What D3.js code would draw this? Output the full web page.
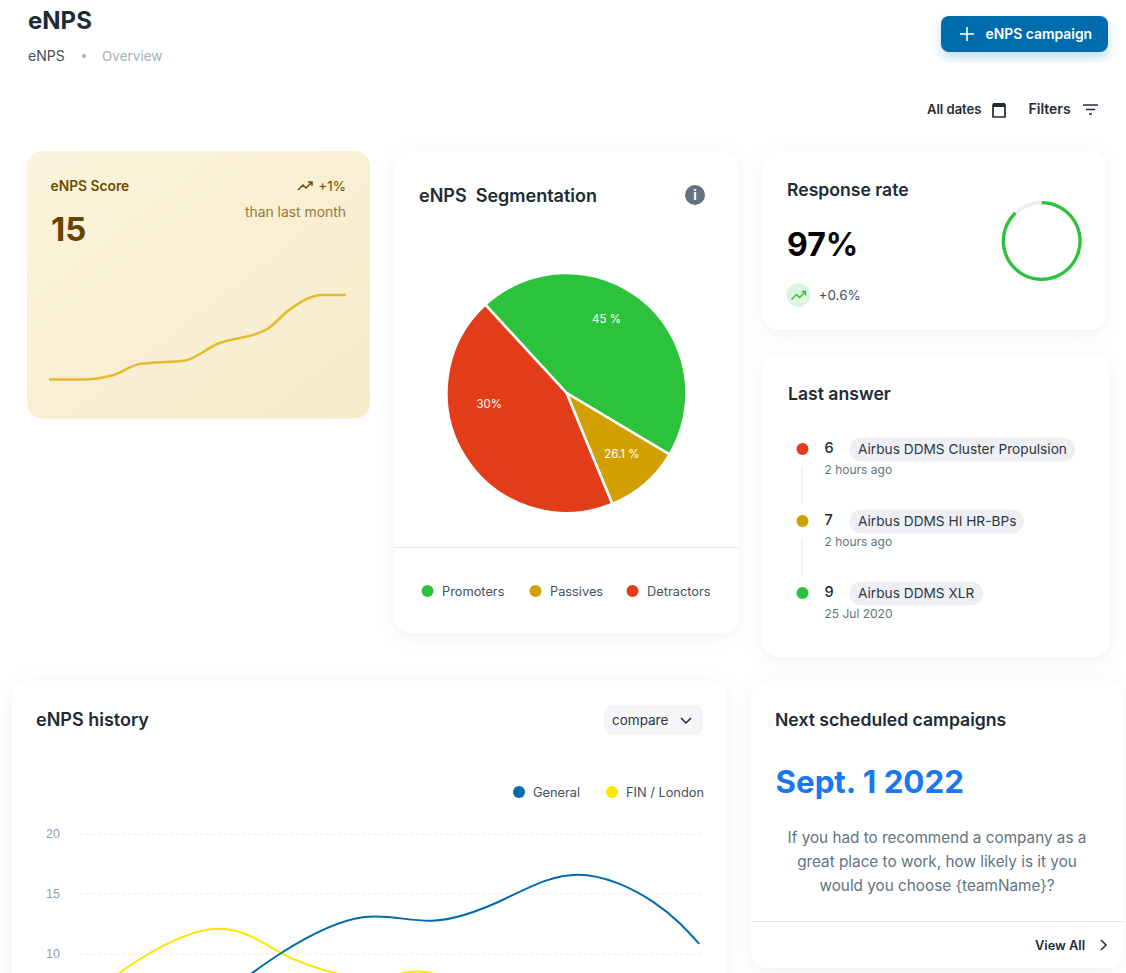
<!DOCTYPE html>
<html>
  <head>
    <meta charset="utf-8">
    <title>eNPS</title>
    <script src="https://d3js.org/d3.v7.min.js"></script>
    <style>
      html, body { margin: 0; padding: 0; background: #fff; overflow: hidden; }
      svg { display: block; font-family: Inter, "Noto Sans", sans-serif; }
      text { fill: #212b36; white-space: pre; }
      .title { font-size: 17.6px; font-weight: 600; }
      .legend { font-size: 12.8px; fill: #454f5b; }
      .small { font-size: 12px; fill: #637381; }
      .axis text { font-size: 12.5px; fill: #919eab; }
      .axis line { stroke: #e8ebee; stroke-dasharray: 3 3; }
    </style>
  </head>

  <body>
    <svg id="canvas" width="1126" height="973"></svg>
    <script>
      // data
      const sliceNames = ["Promoters", "Passives", "Detractors"];
      const sliceValues = [45.4, 10.2, 44.4];
      const sliceLabels = ["45 %", "26.1 %", "30%"];
      const sliceColours = ["#2cc23c", "#d1a000", "#e23c18"];

      const sparkX = [0, 11.4, 21.5, 30.6, 45.8, 56.6, 73.4, 81.1, 91.9, 100];
      const sparkY = [0, 0, 5, 18.5, 22.5, 42, 59.5, 83, 100, 100];

      const historyTicks = [10, 15, 20];
      const generalX = [19, 32.3, 45.4, 56.5, 68, 79.9, 92, 99.4];
      const generalY = [5, 10.04, 13.02, 12.73, 14.5, 16.57, 14.3, 10.8];
      const londonX = [0, 6.3, 21, 32.3, 40.9, 47.4, 54.1, 61];
      const londonY = [5.3, 8.38, 12.02, 10.04, 8.38, 7.9, 8.49, 7.6];

      const answerScores = ["6", "7", "9"];
      const answerTeams = ["Airbus DDMS Cluster Propulsion", "Airbus DDMS HI HR-BPs", "Airbus DDMS XLR"];
      const answerTimes = ["2 hours ago", "2 hours ago", "25 Jul 2020"];
      const answerColours = ["#e23c18", "#d1a000", "#2cc23c"];
      const answerPillEnds = [1075, 1024, 983];

      const responseShare = 0.88;
      const questionLines = [
        "If you had to recommend a company as a",
        "great place to work, how likely is it you",
        "would you choose {teamName}?"
      ];

      const canvas = d3.select("#canvas");
      const defs = canvas.append("defs");

      // shadows and the score card fill
      function addShadow(id, dy, blur, colour, opacity) {
        defs.append("filter")
            .attr("id", id)
            .attr("x", "-20%").attr("y", "-20%")
            .attr("width", "140%").attr("height", "150%")
          .append("feDropShadow")
            .attr("dx", 0).attr("dy", dy)
            .attr("stdDeviation", blur)
            .attr("flood-color", colour)
            .attr("flood-opacity", opacity);
      }
      addShadow("cardShadow", 3, 8, "#919eab", 0.16);
      addShadow("buttonShadow", 6, 6, "#006cae", 0.24);

      const scoreFill = defs.append("linearGradient")
        .attr("id", "scoreFill")
        .attr("x1", 0).attr("y1", 0)
        .attr("x2", 1).attr("y2", 1);
      scoreFill.append("stop").attr("offset", "0%").attr("stop-color", "#fbf4dc");
      scoreFill.append("stop").attr("offset", "100%").attr("stop-color", "#f6ebcb");

      // helpers
      function card(x0, y0, x1, y1) {
        return canvas.append("rect")
          .attr("x", x0).attr("y", y0)
          .attr("width", x1 - x0).attr("height", y1 - y0)
          .attr("rx", 16)
          .attr("fill", "#fff")
          .attr("filter", "url(#cardShadow)");
      }

      function label(x, y, string, className) {
        return canvas.append("text")
          .attr("x", x).attr("y", y)
          .attr("class", className || null)
          .text(string);
      }

      function icon(x, y, path, colour, width) {
        return canvas.append("path")
          .attr("transform", "translate(" + x + "," + y + ")")
          .attr("d", path)
          .attr("fill", "none")
          .attr("stroke", colour)
          .attr("stroke-width", width);
      }

      const trendPath = "M0 9 L5 4 L8 7 L14 1 M10 1 H14 V5";

      // page header
      label(28, 29, "eNPS").style("font-size", "24px").style("font-weight", 700);
      label(28, 61, "eNPS").style("font-size", "14px").style("fill", "#454f5b");
      canvas.append("circle").attr("cx", 84).attr("cy", 56).attr("r", 2).attr("fill", "#a5b0bc");
      label(102, 61, "Overview").style("font-size", "13.5px").style("fill", "#a5b0bc");

      canvas.append("rect")
        .attr("x", 941).attr("y", 16)
        .attr("width", 167).attr("height", 36)
        .attr("rx", 8)
        .attr("fill", "#006cae")
        .attr("filter", "url(#buttonShadow)");
      icon(960, 27, "M7 0 V14 M0 7 H14", "#fff", 1.6);
      label(985.5, 39, "eNPS campaign").style("font-size", "13.9px").style("font-weight", 600).style("fill", "#fff");

      label(927, 114, "All dates").style("font-size", "13px").style("font-weight", 600);
      icon(992, 102, "M1 3 H13 V15 H1 Z M4 1 V3 M10 1 V3", "#212b36", 1.7);
      canvas.append("rect").attr("x", 993).attr("y", 103).attr("width", 12).attr("height", 4).attr("fill", "#212b36");
      label(1028.5, 114, "Filters").style("font-size", "14px").style("font-weight", 600);
      icon(1083, 104, "M0 1 H15 M3 5.500 H12 M6 10 H9", "#212b36", 1.6);

      // eNPS score card
      canvas.append("rect")
        .attr("x", 27).attr("y", 151)
        .attr("width", 343).attr("height", 267.5)
        .attr("rx", 15)
        .attr("fill", "url(#scoreFill)");
      label(50.5, 191, "eNPS Score").style("font-size", "13.8px").style("font-weight", 600).style("fill", "#6f4c00");
      label(51, 241, "15").style("font-size", "33px").style("font-weight", 700).style("fill", "#654500");
      icon(298, 181, trendPath, "#6f4c00", 1.5);
      label(346, 191, "+1%").attr("text-anchor", "end").style("font-size", "13.5px").style("fill", "#6f4c00");
      label(346, 217, "than last month").attr("text-anchor", "end").style("font-size", "13.9px").style("fill", "#947a3c");

      const sparkXScale = d3.scaleLinear().domain([0, 100]).range([49, 346]);
      const sparkYScale = d3.scaleLinear().domain([0, 100]).range([379.5, 295]);
      const sparkLine = d3.line()
        .x(function(d) { return sparkXScale(d[0]); })
        .y(function(d) { return sparkYScale(d[1]); })
        .curve(d3.curveMonotoneX);
      canvas.append("path")
        .datum(d3.zip(sparkX, sparkY))
        .attr("d", sparkLine)
        .attr("fill", "none")
        .attr("stroke", "#e5bb2d")
        .attr("stroke-width", 2.5);

      // segmentation card
      card(394.500, 151, 738.500, 633);
      label(419, 202, "eNPS  Segmentation", "title").style("font-size", "18px");
      canvas.append("circle").attr("cx", 695).attr("cy", 195).attr("r", 10).attr("fill", "#637381");
      label(695, 200, "i").attr("text-anchor", "middle").style("font-size", "13px").style("font-weight", 700).style("fill", "#fff");

      const pieCentre = [566.5, 393];
      const pieRadius = 120;
      const startAngle = -42.6 * Math.PI / 180;
      const pieLayout = d3.pie()
        .sort(null)
        .startAngle(startAngle)
        .endAngle(startAngle + 2 * Math.PI);
      const pieArc = d3.arc().innerRadius(0).outerRadius(pieRadius);
      const pieGroup = canvas.append("g")
        .attr("transform", "translate(" + pieCentre + ")");
      pieGroup.selectAll("path")
          .data(pieLayout(sliceValues))
        .enter().append("path")
          .attr("d", pieArc)
          .attr("fill", function(d, i) { return sliceColours[i]; })
          .attr("stroke", "#fff")
          .attr("stroke-width", 2.5);

      // labels sit away from the slice centres in the original, so they get their own polar spots
      const labelAngles = [28.4, 137.8, 262];
      const labelRadii = [84, 82.5, 78];
      pieGroup.selectAll(".sliceLabel")
          .data(sliceLabels)
        .enter().append("text")
          .attr("class", "sliceLabel")
          .attr("transform", function(d, i) {
            return "translate(" + d3.pointRadial(labelAngles[i] * Math.PI / 180, labelRadii[i]) + ")";
          })
          .attr("text-anchor", "middle")
          .attr("dy", "0.35em")
          .style("font-size", "11.5px")
          .style("fill", "#fff")
          .text(function(d) { return d; });

      canvas.append("line")
        .attr("x1", 394.500).attr("x2", 738.500)
        .attr("y1", 547.500).attr("y2", 547.500)
        .attr("stroke", "#e6e8eb");

      const legendDots = [427.5, 535.5, 632.5];
      sliceNames.forEach(function(name, i) {
        canvas.append("circle").attr("cx", legendDots[i]).attr("cy", 591).attr("r", 6).attr("fill", sliceColours[i]);
        label(legendDots[i] + 14.5, 596, name, "legend");
      });

      // response rate card
      card(762.5, 151, 1105.500, 330);
      label(787, 196, "Response rate", "title");
      label(787, 256, "97%").style("font-size", "32px").style("font-weight", 700).style("fill", "#000");
      canvas.append("circle").attr("cx", 798.5).attr("cy", 295).attr("r", 12).attr("fill", "#ddf5df");
      icon(791.5, 290.5, trendPath, "#2cc23c", 1.3);
      label(818.5, 300, "+0.6%").style("font-size", "13.5px").style("fill", "#454f5b");

      const ring = canvas.append("g").attr("transform", "translate(1041.7,241)");
      const ringArc = d3.arc().innerRadius(36.7).outerRadius(40);
      ring.append("path")
        .attr("d", ringArc({startAngle: 0, endAngle: 2 * Math.PI}))
        .attr("fill", "#ebedef");
      ring.append("path")
        .attr("d", ringArc({startAngle: 0, endAngle: responseShare * 2 * Math.PI}))
        .attr("fill", "#2cc23c");

      // last answers card
      card(762.5, 355, 1109, 657);
      label(788, 400, "Last answer", "title");
      const rowY = [449, 521, 593];
      answerScores.forEach(function(score, i) {
        const y = rowY[i];
        if (i < 2) {
          canvas.append("line")
            .attr("x1", 802).attr("x2", 802)
            .attr("y1", y + 18).attr("y2", y + 54)
            .attr("stroke", "#eff1f3")
            .attr("stroke-width", 2);
        }
        canvas.append("circle").attr("cx", 802.5).attr("cy", y).attr("r", 6).attr("fill", answerColours[i]);
        label(824.5, y + 4, score).style("font-size", "14.5px").style("font-weight", 500);
        canvas.append("rect")
          .attr("x", 849.5).attr("y", y - 11.500)
          .attr("width", answerPillEnds[i] - 849.5).attr("height", 24)
          .attr("rx", 12)
          .attr("fill", "#edeff2");
        label(858, y + 5, answerTeams[i]).style("font-size", "13.7px").style("fill", "#2c3844");
        label(824.5, y + 25, answerTimes[i], "small");
      });

      // history card
      card(12, 681, 727, 1110);
      label(36, 726, "eNPS history", "title").style("font-size", "18px");
      canvas.append("rect")
        .attr("x", 604).attr("y", 705)
        .attr("width", 99).attr("height", 30)
        .attr("rx", 8)
        .attr("fill", "#f4f6f8");
      label(612, 725, "compare").style("font-size", "13.5px").style("fill", "#2c3844");
      icon(681, 718, "M0 0 L5 5 L10 0", "#212b36", 1.5);

      canvas.append("circle").attr("cx", 519).attr("cy", 792).attr("r", 6).attr("fill", "#006cae");
      label(533, 797, "General", "legend");
      canvas.append("circle").attr("cx", 612).attr("cy", 792).attr("r", 6).attr("fill", "#ffe600");
      label(626, 797, "FIN / London", "legend");

      const historyXScale = d3.scaleLinear().domain([0, 100]).range([80, 703]);
      const historyYScale = d3.scaleLinear().domain([0, 20]).range([1073.5, 833.5]);
      const historyAxis = d3.axisLeft(historyYScale)
        .tickValues(historyTicks)
        .tickSize(-623)
        .tickPadding(20);
      canvas.append("g")
          .attr("class", "axis")
          .attr("transform", "translate(80,0)")
          .call(historyAxis)
          .call(function(g) { g.select(".domain").remove(); });

      const historyLine = d3.line()
        .x(function(d) { return historyXScale(d[0]); })
        .y(function(d) { return historyYScale(d[1]); })
        .curve(d3.curveNatural);
      canvas.append("path")
        .datum(d3.zip(londonX, londonY))
        .attr("d", historyLine)
        .attr("fill", "none")
        .attr("stroke", "#ffe600")
        .attr("stroke-width", 2);
      canvas.append("path")
        .datum(d3.zip(generalX, generalY))
        .attr("d", historyLine)
        .attr("fill", "none")
        .attr("stroke", "#006cae")
        .attr("stroke-width", 2);

      // next campaign card
      card(751, 681, 1124, 968);
      label(775, 726, "Next scheduled campaigns", "title");
      label(775.5, 793, "Sept. 1 2022").style("font-size", "31.3px").style("font-weight", 700).style("fill", "#1877f2");
      questionLines.forEach(function(line, i) {
        label(937, 843 + i * 24, line)
          .attr("text-anchor", "middle")
          .style("font-size", "15.3px")
          .style("fill", "#637381");
      });
      canvas.append("line")
        .attr("x1", 751).attr("x2", 1124)
        .attr("y1", 921.5).attr("y2", 921.5)
        .attr("stroke", "#e6e8eb");
      label(1085, 950, "View All").attr("text-anchor", "end").style("font-size", "12.8px").style("font-weight", 600);
      icon(1101, 940, "M0 0 L5 5 L0 10", "#212b36", 1.5);
    </script>
  </body>
</html>
